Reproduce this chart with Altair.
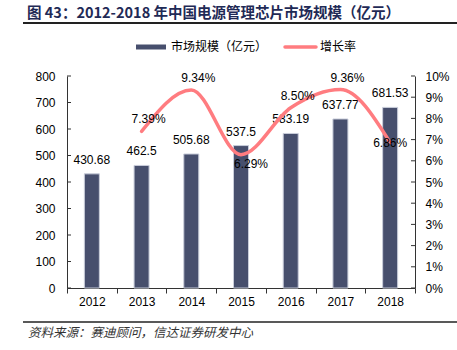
import altair as alt
import pandas as pd

years = ["2012", "2013", "2014", "2015", "2016", "2017", "2018"]
market = [430.68, 462.5, 505.68, 537.5, 583.19, 637.77, 681.53]
growth_years = ["2013", "2014", "2015", "2016", "2017", "2018"]
growth = [7.39, 9.34, 6.29, 8.50, 9.36, 6.86]
left_ticks = [0, 100, 200, 300, 400, 500, 600, 700, 800]
right_ticks = [0, 1, 2, 3, 4, 5, 6, 7, 8, 9, 10]

title_text = "图 43：2012-2018 年中国电源管理芯片市场规模（亿元）"
source_text = "资料来源：赛迪顾问，信达证券研发中心"
legend_bar = "市场规模（亿元）"
legend_line = "增长率"

FONT = "Liberation Sans"
CJK = "Noto Sans CJK SC"
BAR_COLOR = "#474f6d"
LINE_COLOR = "#ff7c80"
AXIS_COLOR = "#333333"

bar_df = pd.DataFrame({"year": years, "market": market})
bar_df["label"] = [f"{v:g}" for v in market]
line_df = pd.DataFrame({"year": growth_years, "growth": growth})
line_df["label"] = [f"{v:.2f}%" for v in growth]

above_years = ["2013", "2014", "2016", "2017"]
below_years = ["2015"]
center_years = ["2018"]

x_axis = alt.Axis(
    title=None, labelAngle=0, labelFont=FONT, labelFontSize=12,
    labelColor="#000000", domainColor=AXIS_COLOR, tickColor=AXIS_COLOR,
    tickBand="extent", tickSize=5, labelPadding=3, domainWidth=1,
)
x_scale = alt.Scale(domain=years, paddingInner=0, paddingOuter=0)
x_enc = alt.X("year:N", sort=years, scale=x_scale, axis=x_axis)

left_axis = alt.Axis(
    title=None, values=left_ticks, tickCount=9, ticks=False, labelFont=FONT,
    labelFontSize=12, labelColor="#000000", domainColor=AXIS_COLOR,
    labelPadding=12, grid=False, domainWidth=1, labelOverlap=False,
)
right_axis = alt.Axis(
    title=None, orient="right", values=right_ticks, tickCount=11, ticks=False,
    labelExpr="datum.value + '%'", labelFont=FONT, labelFontSize=12,
    labelColor="#000000", domainColor=AXIS_COLOR, labelPadding=10,
    grid=False, domainWidth=1, labelOverlap=False,
)
y_left_scale = alt.Scale(domain=[0, 800], nice=False)
y_right_scale = alt.Scale(domain=[0, 10], nice=False)

def yl(field):
    return alt.Y(field, scale=y_left_scale, axis=left_axis)

def yr(field):
    return alt.Y(field, scale=y_right_scale, axis=right_axis)

bars = alt.Chart(bar_df).mark_bar(
    size=15, color=BAR_COLOR, stroke="#c9cdda", strokeWidth=1
).encode(x=x_enc, y=yl("market:Q"))
bar_labels = alt.Chart(bar_df).mark_text(
    font=FONT, fontSize=12, color="#000000", baseline="middle", dy=-14
).encode(x=x_enc, y=yl("market:Q"), text="label:N")
left_tick_marks = alt.Chart(pd.DataFrame({"market": left_ticks})).mark_rule(
    color=AXIS_COLOR, strokeWidth=1
).encode(x=alt.value(0), x2=alt.value(4), y=yl("market:Q"))

left_layer = alt.layer(bars, bar_labels, left_tick_marks)

line = alt.Chart(line_df).mark_line(
    color=LINE_COLOR, strokeWidth=3.5, interpolate="monotone", strokeCap="round"
).encode(x=x_enc, y=yr("growth:Q"))

def line_text(sel, dx, dy):
    return alt.Chart(line_df).transform_filter(
        alt.FieldOneOfPredicate(field="year", oneOf=sel)
    ).mark_text(
        font=FONT, fontSize=12, color="#000000", baseline="middle", dx=dx, dy=dy
    ).encode(x=x_enc, y=yr("growth:Q"), text="label:N")

right_tick_marks = alt.Chart(pd.DataFrame({"growth": right_ticks})).mark_rule(
    color=AXIS_COLOR, strokeWidth=1
).encode(x=alt.value(344), x2=alt.value(348), y=yr("growth:Q"))

right_layer = alt.layer(
    line, line_text(above_years, 7, -12), line_text(below_years, 10, 9),
    line_text(center_years, 0, 0), right_tick_marks,
)

title = alt.Chart(pd.DataFrame({"t": [title_text]})).mark_text(
    font=CJK, fontSize=14.5, fontWeight="bold", color="#1f2a56", align="left", baseline="middle"
).encode(x=alt.value(-40), y=alt.value(-62), text="t:N")
title_rule = alt.Chart(pd.DataFrame({"a": [0]})).mark_rule(color="#222222", strokeWidth=2).encode(
    x=alt.value(-44), x2=alt.value(390), y=alt.value(-53)
)
leg_bar = alt.Chart(pd.DataFrame({"a": [0]})).mark_rule(color=BAR_COLOR, strokeWidth=5).encode(
    x=alt.value(69), x2=alt.value(99), y=alt.value(-29)
)
leg_bar_text = alt.Chart(pd.DataFrame({"t": [legend_bar]})).mark_text(
    font=CJK, fontSize=12, color="#000000", align="left", baseline="middle"
).encode(x=alt.value(104), y=alt.value(-29), text="t:N")
leg_line = alt.Chart(pd.DataFrame({"a": [0]})).mark_rule(color=LINE_COLOR, strokeWidth=3.5, strokeCap="round").encode(
    x=alt.value(218), x2=alt.value(249), y=alt.value(-29)
)
leg_line_text = alt.Chart(pd.DataFrame({"t": [legend_line]})).mark_text(
    font=CJK, fontSize=12, color="#000000", align="left", baseline="middle"
).encode(x=alt.value(253), y=alt.value(-29), text="t:N")
foot_rule = alt.Chart(pd.DataFrame({"a": [0]})).mark_rule(color="#222222", strokeWidth=1.5).encode(
    x=alt.value(-44), x2=alt.value(390), y=alt.value(246)
)
foot_text = alt.Chart(pd.DataFrame({"t": [source_text]})).mark_text(
    font=CJK, fontSize=12.5, fontStyle="italic", color="#333333", align="left", baseline="middle"
).encode(x=alt.value(-39), y=alt.value(257), text="t:N")

chart = alt.layer(
    left_layer, right_layer,
    title, title_rule, leg_bar, leg_bar_text, leg_line, leg_line_text, foot_rule, foot_text,
).resolve_scale(y="independent").properties(
    width=348, height=212,
    padding={"left": 67, "top": 76, "right": 42, "bottom": 62},
    autosize=alt.AutoSizeParams(type="none"),
    background="#ffffff",
).configure_view(stroke=None)

chart.save("out.html", embed_options={"renderer": "svg", "actions": False})
